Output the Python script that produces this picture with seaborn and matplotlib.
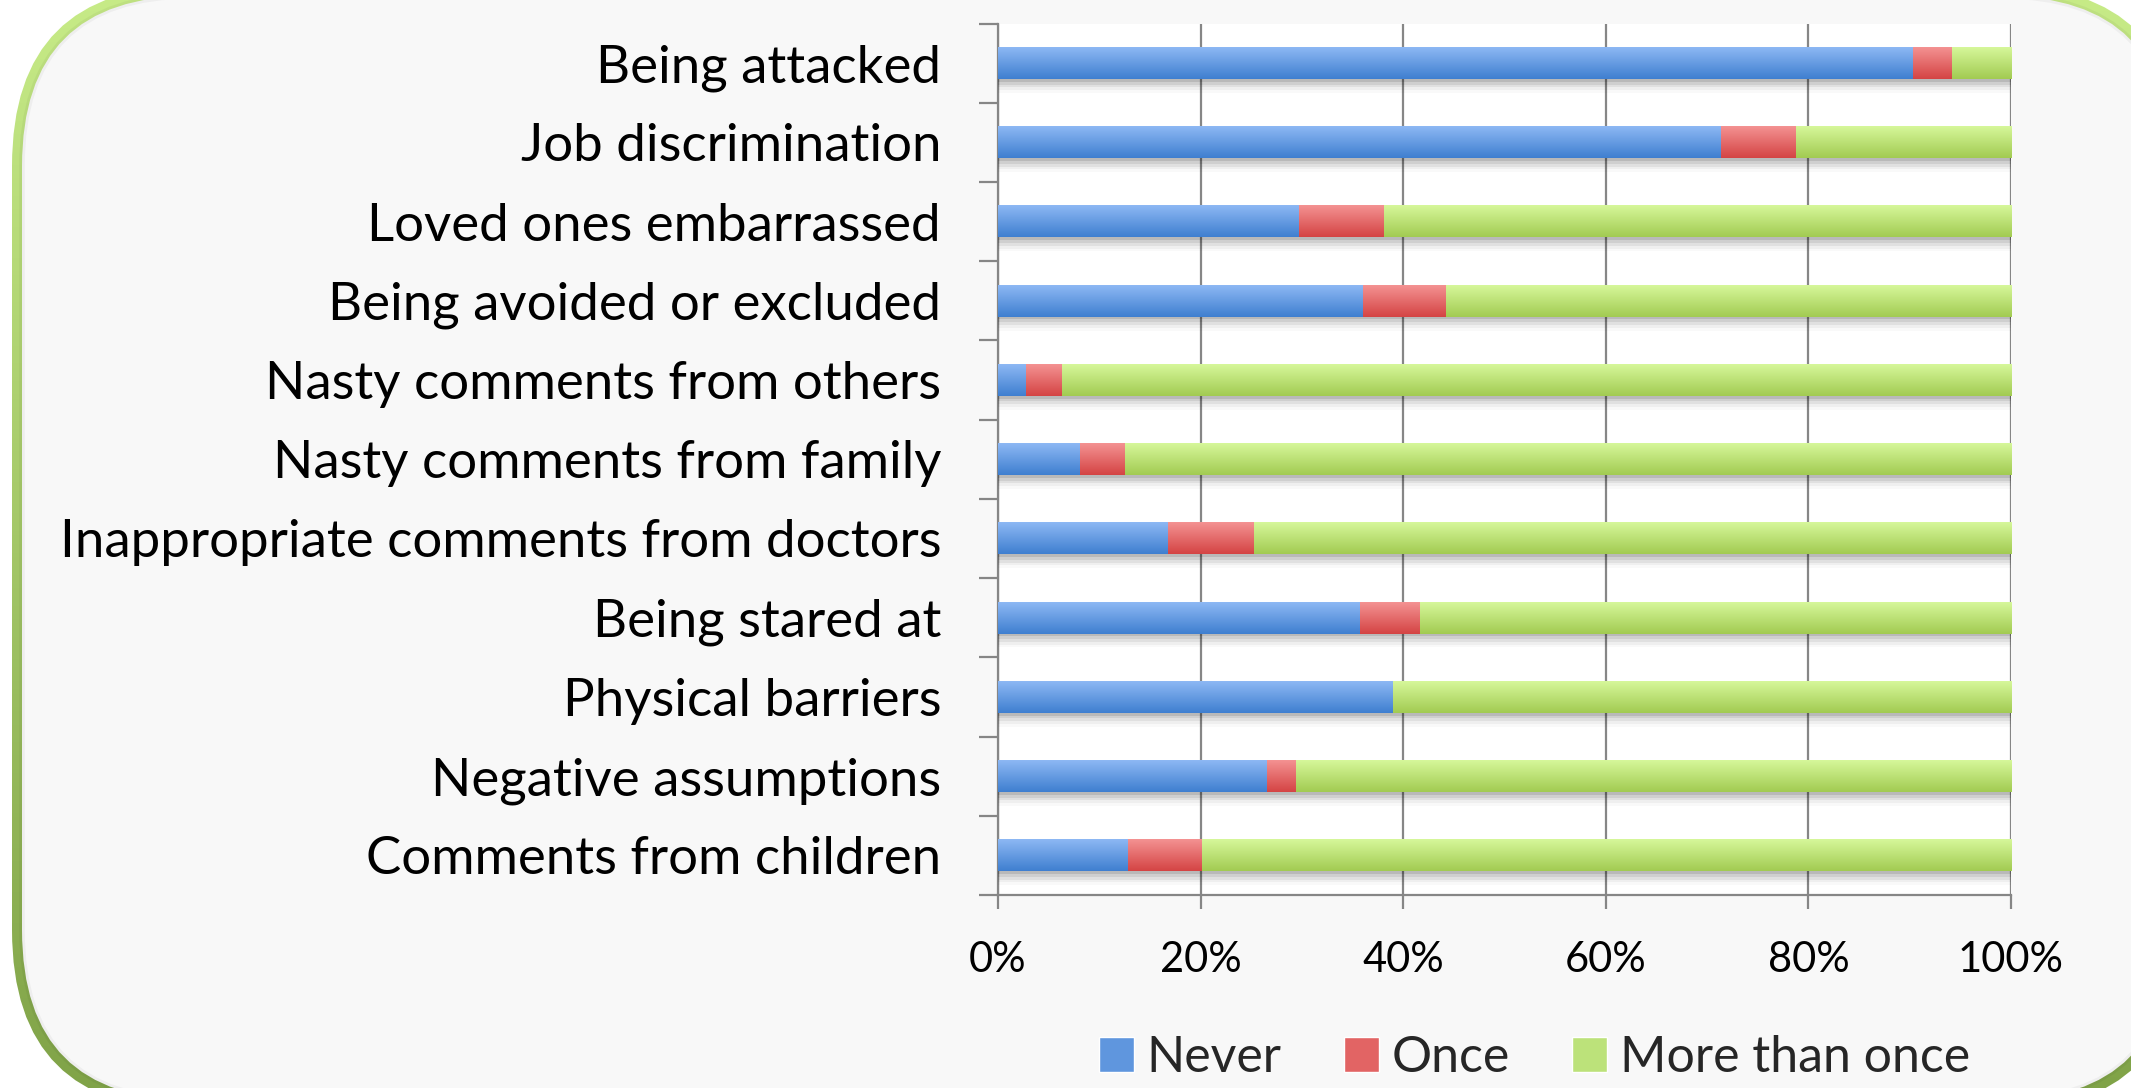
import numpy as np
import pandas as pd
import matplotlib
matplotlib.use("Agg")
import matplotlib.pyplot as plt
import seaborn as sns
from matplotlib.patches import FancyBboxPatch, Patch
from matplotlib import patheffects as pe
from matplotlib.colors import to_rgb

# ---------------- data ----------------
categories = [
    "Being attacked",
    "Job discrimination",
    "Loved ones embarrassed",
    "Being avoided or excluded",
    "Nasty comments from others",
    "Nasty comments from family",
    "Inappropriate comments from doctors",
    "Being stared at",
    "Physical barriers",
    "Negative assumptions",
    "Comments from children",
]
never = [90.3, 71.3, 29.7, 36.0, 2.7, 8.0, 16.7, 35.7, 38.9, 26.5, 12.8]
once = [3.8, 7.4, 8.4, 8.2, 3.6, 4.5, 8.5, 5.9, 0.0, 2.9, 7.3]
more_than_once = [5.9, 21.3, 61.9, 55.8, 93.7, 87.5, 74.8, 58.4, 61.1, 70.6, 79.9]
series_names = ["Never", "Once", "More than once"]
tick_values = [0, 20, 40, 60, 80, 100]
tick_labels = ["0%", "20%", "40%", "60%", "80%", "100%"]

# colours (top of gradient, bottom of gradient, mid)
blue = ("#8db8f4", "#3f7fd0", "#5f96de")
red = ("#f49292", "#d44444", "#e26464")
green = ("#d6f79a", "#a2cb52", "#bce27a")

sns.set_theme(style="white")
plt.rcParams["font.family"] = ["Lato", "DejaVu Sans"]

W, H = 2131, 1088
fig = plt.figure(figsize=(W / 100, H / 100), dpi=100, facecolor="white")

# ---------------- rounded frame background ----------------
bg = fig.add_axes([0, 0, 1, 1], zorder=-10)
bg.set_xlim(0, W)
bg.set_ylim(H, 0)
bg.axis("off")
outer = FancyBboxPatch((12, -14), 2170, 1124,
                       boxstyle="round,pad=0,rounding_size=180",
                       facecolor="none", edgecolor="none")
bg.add_patch(outer)
grad = np.linspace(0, 1, 256)[:, None, None]
c_top = np.array(to_rgb("#c8ec88"))
c_bot = np.array(to_rgb("#7fa247"))
img = c_top * (1 - grad) + c_bot * grad
im = bg.imshow(img, extent=(0, W, H + 20, -20), aspect="auto", origin="upper")
im.set_clip_path(outer)
inner = FancyBboxPatch((22, -4), 2150, 1104,
                       boxstyle="round,pad=0,rounding_size=170",
                       facecolor="#f8f8f8", edgecolor=(0, 0, 0, 0.04), lw=4)
bg.add_patch(inner)
bg.set_xlim(0, W)
bg.set_ylim(H, 0)

# ---------------- main axes ----------------
left, right, top, bottom = 998, 2011, 23.5, 895
ax = fig.add_axes([left / W, 1 - bottom / H, (right - left) / W, (bottom - top) / H])
ax.set_facecolor("white")

df = pd.DataFrame({"category": categories, "never": never, "once": once,
                   "more": more_than_once})
layers = [
    (df["never"] + df["once"] + df["more"], green),
    (df["never"] + df["once"], red),
    (df["never"], blue),
]
n = len(categories)
shadow = [pe.SimplePatchShadow(offset=(0, -o), shadow_rgbFace="black", alpha=a)
          for o, a in [(2, 0.10), (4, 0.08), (6, 0.06), (8, 0.04), (10, 0.025)]]
g = np.linspace(0, 1, 64)[:, None, None]
for i, (vals, cols) in enumerate(layers):
    sns.barplot(x=vals.values, y=df["category"], orient="h", color=cols[2],
                width=0.4, saturation=1, errorbar=None, ax=ax)
    new_patches = ax.patches[i * n:(i + 1) * n]
    ctop = np.array(to_rgb(cols[0]))
    cbot = np.array(to_rgb(cols[1]))
    gimg = ctop * (1 - g) + cbot * g
    for p in new_patches:
        p.set_zorder(3 + i)
        p.set_edgecolor("none")
        if i == 0:
            p.set_path_effects(shadow + [pe.Normal()])
        x0, y0, w, h = p.get_x(), p.get_y(), p.get_width(), p.get_height()
        if w > 0:
            ax.imshow(gimg, extent=(x0, x0 + w, y0 + h, y0), origin="upper",
                      aspect="auto", zorder=3.5 + i, interpolation="bilinear")

ax.set_xlim(0, 100)
ax.set_ylim(n - 0.5, -0.5)
ax.set_xlabel("")
ax.set_ylabel("")

# grid and spines
gc = "#868686"
ax.set_axisbelow(True)
ax.xaxis.grid(True, color=gc, lw=1.6)
ax.yaxis.grid(False)
for s in ["top", "right"]:
    ax.spines[s].set_visible(False)
for s in ["left", "bottom"]:
    ax.spines[s].set_visible(True)
    ax.spines[s].set_color(gc)
    ax.spines[s].set_linewidth(1.6)

ax.set_xticks(tick_values, tick_labels)
ax.tick_params(axis="x", which="major", bottom=True, direction="out", length=10,
               width=1.6, color=gc, pad=23, labelsize=30, labelcolor="black")
ax.set_yticks(np.arange(-0.5, n, 1.0), minor=True)
ax.tick_params(axis="y", which="minor", left=True, direction="out", length=13.7,
               width=1.6, color=gc)
ax.tick_params(axis="y", which="major", left=False, length=0, pad=41,
               labelsize=38, labelcolor="black")

# legend
handles = [Patch(facecolor=blue[2]), Patch(facecolor=red[2]), Patch(facecolor=green[2])]
fig.legend(handles, series_names, loc="center", bbox_to_anchor=(0.72, 0.028),
           ncol=3, frameon=False, fontsize=36, handlelength=0.7,
           handleheight=0.7, handletextpad=0.25, columnspacing=1.25)

fig.savefig("out.png", dpi=100, facecolor="white")
